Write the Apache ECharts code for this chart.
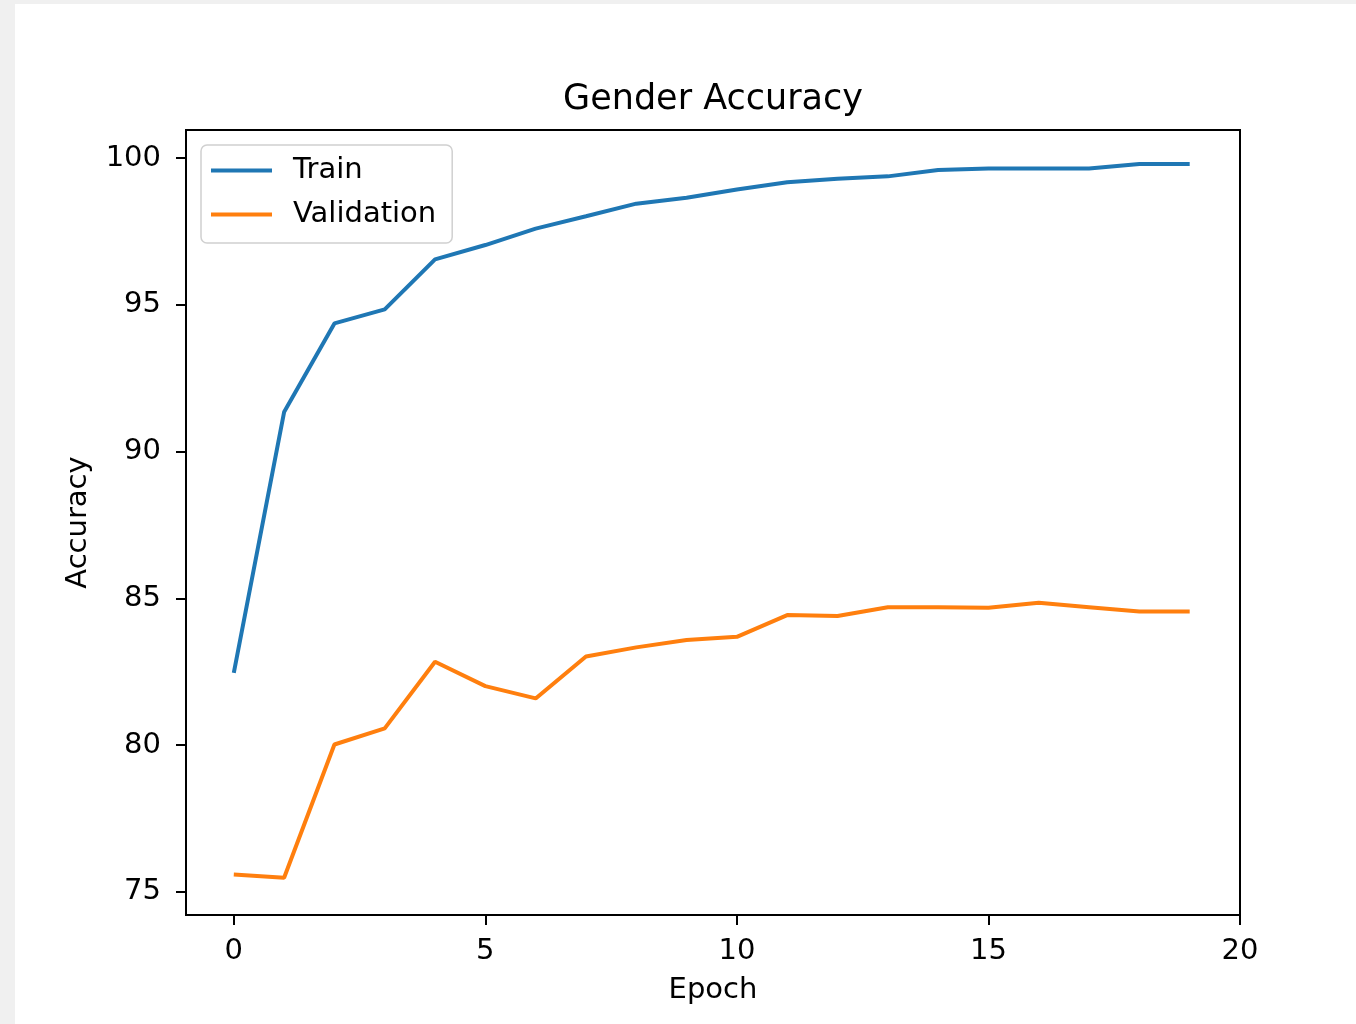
<!DOCTYPE html>
<html>
<head>
<meta charset="utf-8">
<script src="https://cdn.jsdelivr.net/npm/echarts@6/dist/echarts.min.js"></script>
<style>
html, body { margin: 0; padding: 0; background: #ffffff; }
#chart { width: 1356px; height: 1024px; }
</style>
</head>
<body>
<div id="chart"></div>
<script>
const epochs = [0,1,2,3,4,5,6,7,8,9,10,11,12,13,14,15,16,17,18,19];
const trainAcc = [82.46, 91.35, 94.37, 94.85, 96.55, 97.04, 97.6, 98.02, 98.45, 98.65, 98.93, 99.18, 99.3, 99.38, 99.6, 99.65, 99.65, 99.65, 99.8, 99.8];
const valAcc = [75.59, 75.48, 80.02, 80.57, 82.84, 82.01, 81.59, 83.02, 83.33, 83.58, 83.69, 84.43, 84.4, 84.7, 84.7, 84.68, 84.85, 84.7, 84.55, 84.55];
const xTicks = [0, 5, 10, 15, 20];
const yTicks = [75, 80, 85, 90, 95, 100];
const seriesNames = ['Train', 'Validation'];
const titleText = 'Gender Accuracy';
const xName = 'Epoch';
const yName = 'Accuracy';

const FONT = 'DejaVu Sans';
const chart = echarts.init(document.getElementById('chart'), null, { renderer: 'canvas' });

chart.setOption({
  backgroundColor: '#ffffff',
  animation: false,
  graphic: [
    { type: 'rect', left: 0, top: 0, shape: { width: 15, height: 1024 }, style: { fill: '#f0f0f0' }, z: -10 },
    { type: 'rect', left: 0, top: 0, shape: { width: 1356, height: 4 }, style: { fill: '#f0f0f0' }, z: -10 }
  ],
  title: {
    text: titleText,
    left: 713,
    textAlign: 'center',
    top: 82,
    padding: 0,
    textStyle: { fontFamily: FONT, fontSize: 35, fontWeight: 'normal', color: '#000' }
  },
  legend: {
    orient: 'vertical',
    left: 201,
    top: 145,
    align: 'left',
    data: seriesNames,
    icon: 'rect',
    itemWidth: 61,
    itemHeight: 4,
    itemGap: 15,
    padding: [11, 16, 14, 10],
    borderColor: '#d0d0d0',
    borderWidth: 1.5,
    borderRadius: 6,
    backgroundColor: 'rgba(255,255,255,0.8)',
    textStyle: { fontFamily: FONT, fontSize: 29, color: '#000', padding: [0, 0, 0, 16] }
  },
  grid: {
    left: 186, top: 130, right: 116, bottom: 109,
    show: true, borderColor: '#000', borderWidth: 2, backgroundColor: 'transparent'
  },
  xAxis: {
    type: 'value',
    min: -0.95, max: 20,
    name: xName,
    nameLocation: 'middle',
    nameGap: 61,
    nameTextStyle: { fontFamily: FONT, fontSize: 29, color: '#000' },
    axisLine: { show: true, onZero: false, lineStyle: { color: '#000', width: 2 } },
    axisTick: { show: true, inside: false, length: 10, lineStyle: { color: '#000', width: 2 }, customValues: xTicks },
    axisLabel: { show: true, margin: 22, fontFamily: FONT, fontSize: 29, color: '#000', customValues: xTicks, formatter: v => String(v) },
    splitLine: { show: false }
  },
  yAxis: {
    type: 'value',
    min: 74.21, max: 100.96,
    name: yName,
    nameLocation: 'middle',
    nameGap: 93,
    nameRotate: 90,
    nameTextStyle: { fontFamily: FONT, fontSize: 29, color: '#000' },
    axisLine: { show: true, onZero: false, lineStyle: { color: '#000', width: 2 } },
    axisTick: { show: true, inside: false, length: 10, lineStyle: { color: '#000', width: 2 }, customValues: yTicks },
    axisLabel: { show: true, margin: 25, fontFamily: FONT, fontSize: 29, color: '#000', customValues: yTicks, formatter: v => String(v) },
    splitLine: { show: false }
  },
  series: [
    {
      name: seriesNames[0], type: 'line', symbol: 'none',
      data: epochs.map((e, i) => [e, trainAcc[i]]),
      lineStyle: { color: '#1f77b4', width: 4 }, itemStyle: { color: '#1f77b4' }
    },
    {
      name: seriesNames[1], type: 'line', symbol: 'none',
      data: epochs.map((e, i) => [e, valAcc[i]]),
      lineStyle: { color: '#ff7f0e', width: 4 }, itemStyle: { color: '#ff7f0e' }
    }
  ]
});
</script>
</body>
</html>
